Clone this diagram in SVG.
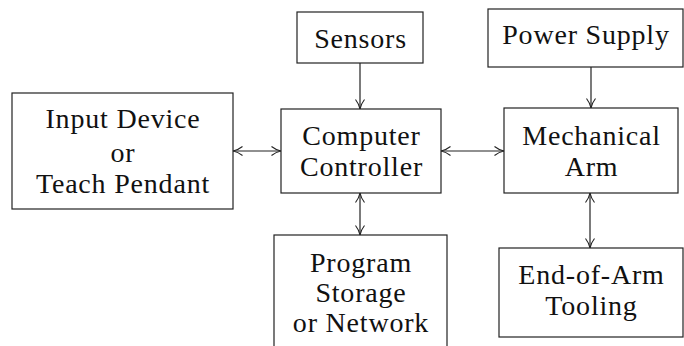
<svg xmlns="http://www.w3.org/2000/svg" width="684" height="346" viewBox="0 0 684 346">
<defs>
<style>
.n{fill:#fff;stroke:#222;stroke-width:1.2}
text{font-family:"Liberation Serif","Times New Roman",serif;font-size:28px;letter-spacing:0.8px;fill:#111;text-anchor:middle}
.c{stroke:#222;stroke-width:1.2;fill:none}
</style>
<marker id="a" viewBox="0 0 10 10" refX="10" refY="5" markerWidth="10" markerHeight="10" markerUnits="userSpaceOnUse" orient="auto-start-reverse">
<path d="M0.5,0.5 Q5,4 10,5 Q5,6 0.5,9.5" fill="none" stroke="#222" stroke-width="1.1"/>
</marker>
</defs>
<rect width="684" height="346" fill="#fff"/>
<g id="input"><rect class="n" x="12" y="93" width="221" height="116"/><text x="123" y="128">Input Device</text><text x="123" y="162">or</text><text x="123" y="193">Teach Pendant</text></g>
<g id="sensors"><rect class="n" x="297" y="12" width="126" height="51"/><text x="360.5" y="48">Sensors</text></g>
<g id="controller"><rect class="n" x="281" y="109" width="160" height="84"/><text x="361.5" y="145">Computer</text><text x="361.5" y="176">Controller</text></g>
<g id="power"><rect class="n" x="488" y="9" width="195" height="58"/><text x="586" y="44">Power Supply</text></g>
<g id="arm"><rect class="n" x="504" y="108" width="174" height="85"/><text x="591.5" y="145">Mechanical</text><text x="591.5" y="176">Arm</text></g>
<g id="storage"><rect class="n" x="274" y="235" width="173" height="130"/><text x="361" y="272">Program</text><text x="361" y="302">Storage</text><text x="361" y="332">or Network</text></g>
<g id="tooling"><rect class="n" x="499" y="248" width="184" height="89"/><text x="591.5" y="284">End-of-Arm</text><text x="591.5" y="315">Tooling</text></g>
<g id="connectors">
<line class="c" x1="360" y1="63" x2="360" y2="109" marker-end="url(#a)"/>
<line class="c" x1="591" y1="67" x2="591" y2="108" marker-end="url(#a)"/>
<line class="c" x1="233" y1="151" x2="281" y2="151" marker-start="url(#a)" marker-end="url(#a)"/>
<line class="c" x1="441" y1="151" x2="504" y2="151" marker-start="url(#a)" marker-end="url(#a)"/>
<line class="c" x1="360" y1="193" x2="360" y2="235" marker-start="url(#a)" marker-end="url(#a)"/>
<line class="c" x1="590" y1="193" x2="590" y2="248" marker-start="url(#a)" marker-end="url(#a)"/>
</g>
</svg>
